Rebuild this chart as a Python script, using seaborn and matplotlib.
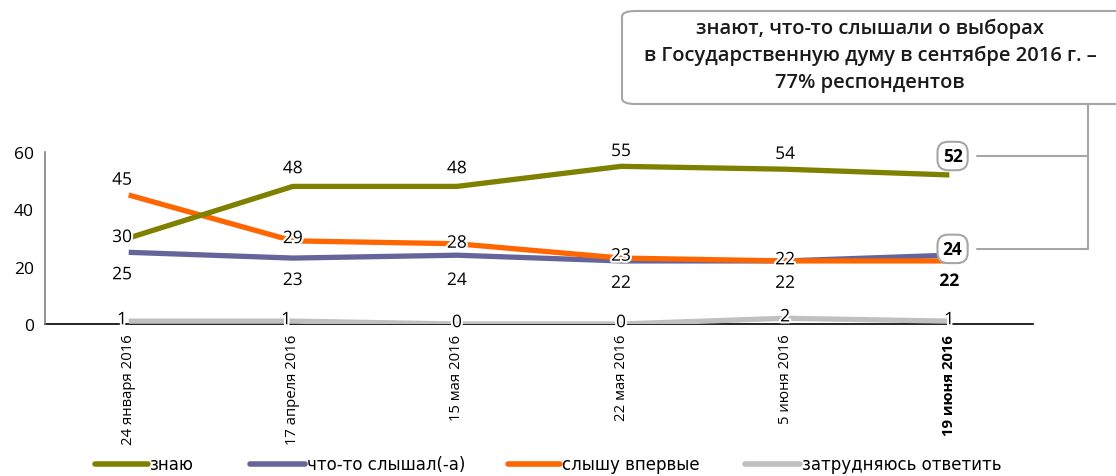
import matplotlib
matplotlib.use("Agg")
import matplotlib.pyplot as plt
import matplotlib.patheffects as pe
from matplotlib.patches import FancyBboxPatch
from matplotlib.lines import Line2D
import seaborn as sns
import pandas as pd
import numpy as np

dates = ["24 января 2016", "17 апреля 2016", "15 мая 2016", "22 мая 2016", "5 июня 2016", "19 июня 2016"]
know = [30, 48, 48, 55, 54, 52]
heard = [25, 23, 24, 22, 22, 24]
first_time = [45, 29, 28, 23, 22, 22]
hard = [1, 1, 0, 0, 2, 1]
series_names = ["знаю", "что-то слышал(-а)", "слышу впервые", "затрудняюсь ответить"]
colors = ["#7f7f00", "#65659b", "#ff6600", "#c0c0c0"]
callout = "знают, что-то слышали о выборах\nв Государственную думу в сентябре 2016 г. –\n77% респондентов"

sns.set_theme(style="white")
plt.rcParams['font.family'] = ['Open Sans', 'DejaVu Sans']
plt.rcParams['text.color'] = 'black'
plt.rcParams['xtick.color'] = 'black'
plt.rcParams['ytick.color'] = 'black'
plt.rcParams['xtick.labelcolor'] = 'black'
plt.rcParams['ytick.labelcolor'] = 'black'

rows = []
for name, vals in zip(series_names, [know, heard, first_time, hard]):
    for i, v in enumerate(vals):
        rows.append({"x": i, "date": dates[i], "value": v, "series": name})
df = pd.DataFrame(rows)

fig = plt.figure(figsize=(11.16, 4.77), dpi=100)
ax = fig.add_axes([45/1116, (477-325)/477, (1033-45)/1116, (325-153)/477])

sns.lineplot(data=df, x="x", y="value", hue="series", hue_order=series_names,
             palette=colors, linewidth=3.8, ax=ax, legend=False, sort=False)
for line, z in zip(ax.get_lines(), [4, 2, 3, 1]):
    line.set_zorder(z)
    line.set_solid_capstyle("butt")

ax.set_xlim(-0.51, 5.51)
ax.set_ylim(0, 60)
ax.set_yticks([0, 20, 40, 60])
ax.set_xticks(range(len(dates)))
ax.set_xticklabels(dates, rotation=90, fontsize=10.7, fontweight="medium",
                   family=['Open Sans', 'DejaVu Sans'])
ax.get_xticklabels()[-1].set_fontweight("bold")
ax.set_xticks(np.arange(0.5, 5.0, 1), minor=True)
ax.tick_params(axis="x", which="major", length=0, pad=7)
ax.tick_params(axis="x", which="minor", length=4, direction="out", color="black", width=1)
ax.tick_params(axis="y", length=5, direction="out", color="#808080", labelsize=12.5, pad=3)
ax.set_xlabel("")
ax.set_ylabel("")
for s in ["top", "right"]:
    ax.spines[s].set_visible(False)
ax.spines["left"].set_color("#808080")
ax.spines["left"].set_linewidth(1.2)
ax.spines["bottom"].set_color("black")
ax.spines["bottom"].set_linewidth(1.2)
ax.spines["bottom"].set_zorder(0)

halo = [pe.withStroke(linewidth=3, foreground="white")]

def lab(x, y, t, bold=False, dx=0.0):
    ax.text(x + dx, y, t, ha="center", va="center", fontsize=12.5,
            fontweight="bold" if bold else "normal", color="black",
            path_effects=halo, zorder=6, clip_on=False)

know_off = [0, 6, 6, 5, 5, None]
for i, v in enumerate(know):
    if i == 0:
        lab(i, v, str(v), dx=-0.04)
    elif know_off[i] is not None:
        lab(i, v + know_off[i], str(v))
heard_off = [-8, -8, -9, -8, -8, None]
for i, v in enumerate(heard):
    if heard_off[i] is not None:
        lab(i, v + heard_off[i], str(v), dx=-0.04 if i == 0 else 0)
ft_off = [5, 0.6, 0, 0.5, 0.2, -7]
for i, v in enumerate(first_time):
    lab(i, v + ft_off[i], str(v), bold=(i == 5), dx=-0.04 if i == 0 else 0)
for i, v in enumerate(hard):
    lab(i, v + 0.3, str(v), dx=-0.04 if i < 2 else 0)

for y, t in [(58.6, str(know[-1])), (26.2, str(heard[-1]))]:
    ax.text(5.02, y, t, ha="center", va="center", fontsize=12.5, fontweight="bold",
            zorder=7, clip_on=False,
            bbox=dict(boxstyle="round,pad=0.3,rounding_size=0.6", fc="white", ec="#a6a6a6", lw=1.5))

def fx(px):
    return px / 1116
def fy(py):
    return (477 - py) / 477
lc = "#a6a6a6"
fig.add_artist(Line2D([fx(1088), fx(1088)], [fy(105), fy(250)], color=lc, lw=1.5))
fig.add_artist(Line2D([fx(977), fx(1088)], [fy(157), fy(157)], color=lc, lw=1.5))
fig.add_artist(Line2D([fx(977), fx(1088)], [fy(250), fy(250)], color=lc, lw=1.5))

box = FancyBboxPatch((fx(622), fy(105)), fx(1116 + 40) - fx(622), fy(12) - fy(105),
                     boxstyle="round,pad=0,rounding_size=0.012", transform=fig.transFigure,
                     fc="white", ec=lc, lw=1.5)
fig.add_artist(box)
fig.text(fx(870), fy(56), callout, ha="center", va="center", fontsize=14.5,
         fontweight="semibold", linespacing=1.45, color="#1a1a1a")

leg_font = ['Liberation Sans Narrow', 'DejaVu Sans Condensed', 'DejaVu Sans']
handle_x = [(95, 148), (250, 305), (508, 560), (745, 800)]
for (x0, x1), c, name in zip(handle_x, colors, series_names):
    fig.add_artist(Line2D([fx(x0), fx(x1)], [fy(465), fy(465)], color=c, lw=4,
                          solid_capstyle="round"))
    fig.text(fx(x1 + 2), fy(465), name, ha="left", va="center", fontsize=12,
             family=leg_font, color="black")

fig.savefig("out.png", dpi=100)
